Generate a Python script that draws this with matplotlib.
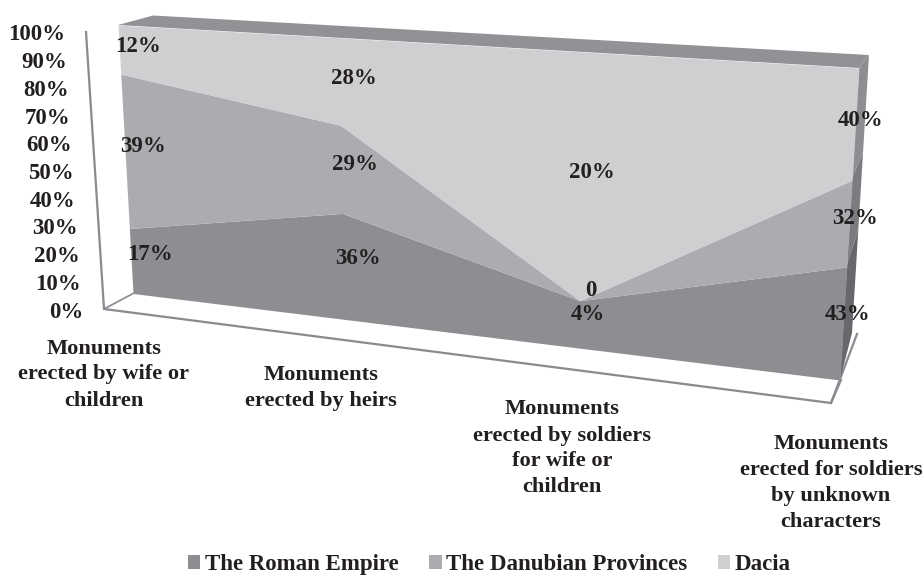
import numpy as np
import matplotlib
matplotlib.use("Agg")
import matplotlib.pyplot as plt
from matplotlib.transforms import Transform
from matplotlib.patches import Polygon

categories = ["Monuments\nerected by wife or\nchildren",
              "Monuments\nerected by heirs",
              "Monuments\nerected by soldiers\nfor wife or\nchildren",
              "Monuments\nerected for soldiers\nby unknown\ncharacters"]
series_names = ["The Roman Empire", "The Danubian Provinces", "Dacia"]
roman = [17, 36, 4, 43]
danubian = [39, 29, 0, 32]
dacia = [12, 28, 20, 40]
label_texts = [["17%", "36%", "4%", "43%"],
               ["39%", "29%", "0", "32%"],
               ["12%", "28%", "20%", "40%"]]
y_ticks = [0, 10, 20, 30, 40, 50, 60, 70, 80, 90, 100]

# ---- styling / geometry ----
FRONT = ["#8e8e92", "#acacb0", "#cfcfd1"]
SIDE = ["#68686c", "#7c7c80", "#8e8e92"]
TOP = "#929296"
INK = "#231f20"
LINE = "#8a8a90"
LABEL_XY = [[(150, 254), (358, 259), (588, 315), (848, 314)],
            [(143, 147), (355, 164), (591, 291), (855, 218)],
            [(138, 46), (354, 79), (592, 172), (861, 120)]]
CAT_XY = [(104, 374.5), (321, 388), (562, 448.5), (831, 483)]
plt.rcParams["font.family"] = ["Liberation Serif", "DejaVu Serif"]
plt.rcParams["font.weight"] = "bold"


class Quad(Transform):
    """Projective map of a data rectangle on to four pixel corners."""
    input_dims = output_dims = 2
    is_affine = False

    def __init__(self, xr, yr, corners):
        super().__init__()
        (x0, x1), (y0, y1) = xr, yr
        src = [(x0, y0), (x0, y1), (x1, y0), (x1, y1)]
        A, b = [], []
        for (x, y), (u, v) in zip(src, corners):
            A.append([x, y, 1, 0, 0, 0, -u * x, -u * y]); b.append(u)
            A.append([0, 0, 0, x, y, 1, -v * x, -v * y]); b.append(v)
        self.h = np.append(np.linalg.solve(np.array(A, float), np.array(b, float)), 1).reshape(3, 3)

    def transform_non_affine(self, values):
        p = np.c_[np.asarray(values, float), np.ones(len(values))] @ self.h.T
        return p[:, :2] / p[:, 2:]

    def inverted(self):
        raise NotImplementedError


fig = plt.figure(figsize=(9.24, 5.76), dpi=100)
ax = fig.add_axes([0, 0, 1, 1])
ax.set_xlim(0, 924)
ax.set_ylim(576, 0)
ax.set_autoscale_on(False)
ax.axis("off")

# corners are (left-low, left-high, right-low, right-high) in pixels
front = Quad((0, 3), (0, 100), [(133, 293.5), (118, 25), (840, 380), (859, 68)]) + ax.transData
side = Quad((0, 1), (0, 100), [(840, 380), (859, 68), (852, 333), (869, 55)]) + ax.transData
top = Quad((0, 3), (0, 1), [(118, 25), (153, 15.5), (859, 68), (869, 55)]) + ax.transData

# walls / floor
ax.plot([86, 104, 831, 857], [32, 309, 403, 334], color=LINE, lw=1.6, zorder=1)
ax.plot([104, 133], [309, 293.5], color=LINE, lw=1.2, zorder=1)
ax.plot([831, 841], [403, 380], color=LINE, lw=1.6, zorder=1)

values = np.array([roman, danubian, dacia], float)
cum = np.cumsum(values, axis=0) / values.sum(axis=0) * 100
lower = np.vstack([np.zeros(4), cum[:-1]])
xs = np.arange(4)

ax.add_patch(Polygon([(0, 0), (0, 1), (3, 1), (3, 0)], transform=top, fc=TOP, ec="none", zorder=2))
for i in range(3):
    ax.add_patch(Polygon([(0, lower[i, 3]), (1, lower[i, 3]), (1, cum[i, 3]), (0, cum[i, 3])],
                         transform=side, fc=SIDE[i], ec="none", zorder=2))
handles = []
for i in range(3):
    handles.append(ax.fill_between(xs, lower[i], cum[i], transform=front, color=FRONT[i],
                                   lw=0, zorder=3, label=series_names[i]))

# data labels
for row_t, row_xy in zip(label_texts, LABEL_XY):
    for t, (px, py) in zip(row_t, row_xy):
        ax.text(px, py, t, ha="center", va="center", fontsize=16.5, color=INK, zorder=5)

# value axis labels follow the slanted wall
for v in y_ticks:
    f = v / 100
    ax.text(104 - 18 * f - 21, 312 - 277 * f, f"{v}%", ha="right", va="center",
            fontsize=16.5, color=INK, zorder=5)

# category labels
for t, (px, py) in zip(categories, CAT_XY):
    ax.text(px, py, t, ha="center", va="center", fontsize=16.1, color=INK,
            linespacing=1.4, zorder=5)

ax.legend(handles=handles, loc="center", bbox_to_anchor=(489.5 / 924, 1 - 564.5 / 576), ncol=3,
          frameon=False, fontsize=16.5, handlelength=0.53, handleheight=0.53,
          handletextpad=0.2, columnspacing=1.35, labelcolor=INK, borderpad=0, borderaxespad=0)

fig.savefig("out.png", dpi=100)
